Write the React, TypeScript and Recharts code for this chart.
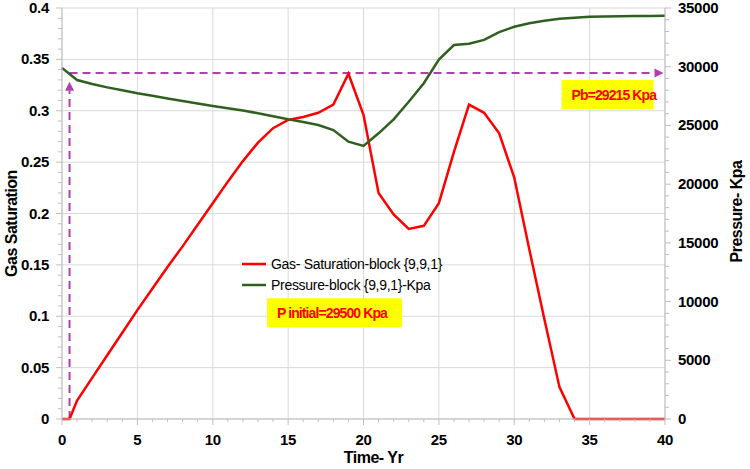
import React from 'react';
import {
  ComposedChart, Line, XAxis, YAxis, CartesianGrid, Legend, ReferenceLine, ReferenceDot, Label,
} from 'recharts';

const time = [0, 0.5, 1, 2, 3, 4, 5, 6, 7, 8, 9, 10, 11, 12, 13, 14, 15, 16, 17, 18, 19, 20,
  21, 22, 23, 24, 25, 26, 27, 28, 29, 30, 31, 32, 33, 34, 35, 36, 37, 38, 39, 40];

const gasSaturation = [0, 0, 0.018, 0.04, 0.062, 0.084, 0.106, 0.127, 0.148, 0.168, 0.189, 0.21,
  0.231, 0.251, 0.269, 0.283, 0.291, 0.294, 0.298, 0.306, 0.336, 0.296, 0.22, 0.199, 0.185, 0.188,
  0.21, 0.26, 0.306, 0.298, 0.278, 0.235, 0.165, 0.097, 0.031, 0, 0, 0, 0, 0, 0, 0];

const pressure = [29900, 29380, 28870, 28530, 28240, 27990, 27740, 27520, 27300, 27080, 26870,
  26660, 26460, 26270, 26040, 25780, 25520, 25300, 25040, 24610, 23620, 23250, 24330, 25520,
  27020, 28590, 30600, 31850, 31950, 32280, 32950, 33400, 33700, 33920, 34080, 34180, 34250,
  34280, 34300, 34310, 34320, 34330];

const xTicks = Array.from({ length: 41 }, (_, i) => i);
const xGrid = [0, 5, 10, 15, 20, 25, 30, 35, 40];
const leftTicks = Array.from({ length: 41 }, (_, i) => +(i * 0.01).toFixed(2));
const leftGrid = [0, 0.05, 0.1, 0.15, 0.2, 0.25, 0.3, 0.35, 0.4];
const rightTicks = Array.from({ length: 36 }, (_, i) => i * 1000);

const data = time.map((t, i) => ({ t, gas: gasSaturation[i], p: pressure[i] }));

const FONT = '"Liberation Sans", Arial, sans-serif';
const AXIS = '#bfbfbf';
const PURPLE = '#b040b0';
const RED = '#ff0000';
const GREEN = '#30601f';

const tickText = { fontSize: 15, fontWeight: 700, fontFamily: FONT, fill: '#000', letterSpacing: -0.3 };

const XTick = (props: any) => {
  const { x, y, payload } = props;
  const v = payload.value;
  const major = v % 5 === 0;
  return (
    <g>
      <line x1={x} y1={y} x2={x} y2={y + (major ? 6 : 3)} stroke={AXIS} />
      {major && (
        <text x={x} y={y + 26} textAnchor="middle" style={tickText}>
          {v}
        </text>
      )}
    </g>
  );
};

const LeftTick = (props: any) => {
  const { x, y, payload } = props;
  const v = payload.value;
  const major = Math.round(v * 100) % 5 === 0;
  return (
    <g>
      <line x1={x} y1={y} x2={x - (major ? 6 : 4)} y2={y} stroke={AXIS} />
      {major && (
        <text x={x - 13} y={y + 5} textAnchor="end" style={tickText}>
          {v}
        </text>
      )}
    </g>
  );
};

const RightTick = (props: any) => {
  const { x, y, payload } = props;
  const v = payload.value;
  const major = v % 5000 === 0;
  return (
    <g>
      <line x1={x} y1={y} x2={x + (major ? 6 : 4)} y2={y} stroke={AXIS} />
      {major && (
        <text x={x + 13} y={y + 5} textAnchor="start" style={tickText}>
          {v}
        </text>
      )}
    </g>
  );
};

// dashed line with an arrow head at its second point
const arrowLine = (props: any) => {
  const { x1, y1, x2, y2 } = props;
  const dx = x2 - x1;
  const dy = y2 - y1;
  const len = Math.sqrt(dx * dx + dy * dy) || 1;
  const ux = dx / len;
  const uy = dy / len;
  const head = 9;
  const bx = x2 - ux * head;
  const by = y2 - uy * head;
  const w = 4.5;
  return (
    <g>
      <line x1={x1} y1={y1} x2={bx} y2={by} stroke={PURPLE} strokeWidth={2} strokeDasharray="8 5" />
      <polygon
        points={`${x2},${y2} ${bx - uy * w},${by + ux * w} ${bx + uy * w},${by - ux * w}`}
        fill={PURPLE}
      />
    </g>
  );
};

const noteBox = (text: string, w: number) => (props: any) => {
  const { cx, cy } = props;
  return (
    <g>
      <rect x={cx - w / 2} y={cy - 14.5} width={w} height={29} fill="#ffff00" />
      <text x={cx - w / 2 + 10} y={cy + 5} fontSize={14} fontWeight="bold" fontFamily={FONT}
        fill={RED} letterSpacing={-0.9}>
        {text}
      </text>
    </g>
  );
};

const renderLegend = (props: any) => {
  const { payload } = props;
  return (
    <div style={{ fontFamily: FONT, fontSize: 14, letterSpacing: -0.3, color: '#000', whiteSpace: 'nowrap' }}>
      {(payload || []).map((item: any) => (
        <div key={item.value} style={{ display: 'flex', alignItems: 'center', height: 21 }}>
          <svg width={29} height={4}>
            <line x1={0} y1={2} x2={24} y2={2} stroke={item.color} strokeWidth={2.5} />
          </svg>
          <span>{item.value}</span>
        </div>
      ))}
    </div>
  );
};

const axisTitle = (text: string, dx: number, dy: number, rotate: boolean) => (props: any) => {
  const { viewBox } = props;
  const cx = viewBox.x + viewBox.width / 2 + dx;
  const cy = viewBox.y + viewBox.height / 2 + dy;
  return (
    <text x={cx} y={cy} textAnchor="middle" dominantBaseline="central" fontSize={16}
      fontWeight="bold" fontFamily={FONT} fill="#000" letterSpacing={-0.5}
      transform={rotate ? `rotate(-90 ${cx} ${cy})` : undefined}>
      {text}
    </text>
  );
};

export default function App() {
  return (
    <div style={{ position: 'absolute', left: 0, top: 0, width: 750, height: 469, background: '#fff' }}>
      <ComposedChart width={750} height={469} data={data} margin={{ top: 8, right: 0, bottom: 0, left: 0 }}>
        <CartesianGrid yAxisId="left" stroke="#d9d9d9" horizontalValues={leftGrid} verticalValues={xGrid} />
        <XAxis dataKey="t" type="number" domain={[0, 40]} ticks={xTicks} interval={0} height={50}
          tickSize={0} tickMargin={0} tick={<XTick />} stroke={AXIS}>
          <Label content={axisTitle('Time- Yr', 10, 13, false)} />
        </XAxis>
        <YAxis yAxisId="left" domain={[0, 0.4]} ticks={leftTicks} interval={0} width={62}
          tickSize={0} tickMargin={0} tick={<LeftTick />} stroke={AXIS}>
          <Label content={axisTitle('Gas Saturation', -20, 10, true)} />
        </YAxis>
        <YAxis yAxisId="right" orientation="right" domain={[0, 35000]} ticks={rightTicks} interval={0}
          width={85} tickSize={0} tickMargin={0} tick={<RightTick />} stroke={AXIS}>
          <Label content={axisTitle('Pressure- Kpa', 29, -2, true)} />
        </YAxis>
        <Legend layout="vertical" align="center" verticalAlign="middle" content={renderLegend}
          wrapperStyle={{ position: 'absolute', left: 242, top: 253, width: 240 }} />
        <ReferenceLine yAxisId="left" segment={[{ x: 0.5, y: 0 }, { x: 0.5, y: 0.3283 }]} shape={arrowLine} />
        <ReferenceLine yAxisId="left" segment={[{ x: 0.5, y: 0.3367 }, { x: 39.9, y: 0.3367 }]} shape={arrowLine} />
        <Line yAxisId="left" type="linear" dataKey="gas" name="Gas- Saturation-block {9,9,1}" stroke={RED}
          strokeWidth={2.5} dot={false} isAnimationActive={false} />
        <Line yAxisId="right" type="linear" dataKey="p" name="Pressure-block {9,9,1}-Kpa" stroke={GREEN}
          strokeWidth={2.5} dot={false} isAnimationActive={false} />
        <ReferenceDot yAxisId="left" x={36.19} y={0.3158} shape={noteBox('Pb=29215 Kpa', 92)} />
        <ReferenceDot yAxisId="left" x={18.08} y={0.1034} shape={noteBox('P initial=29500 Kpa', 135)} />
      </ComposedChart>
    </div>
  );
}
